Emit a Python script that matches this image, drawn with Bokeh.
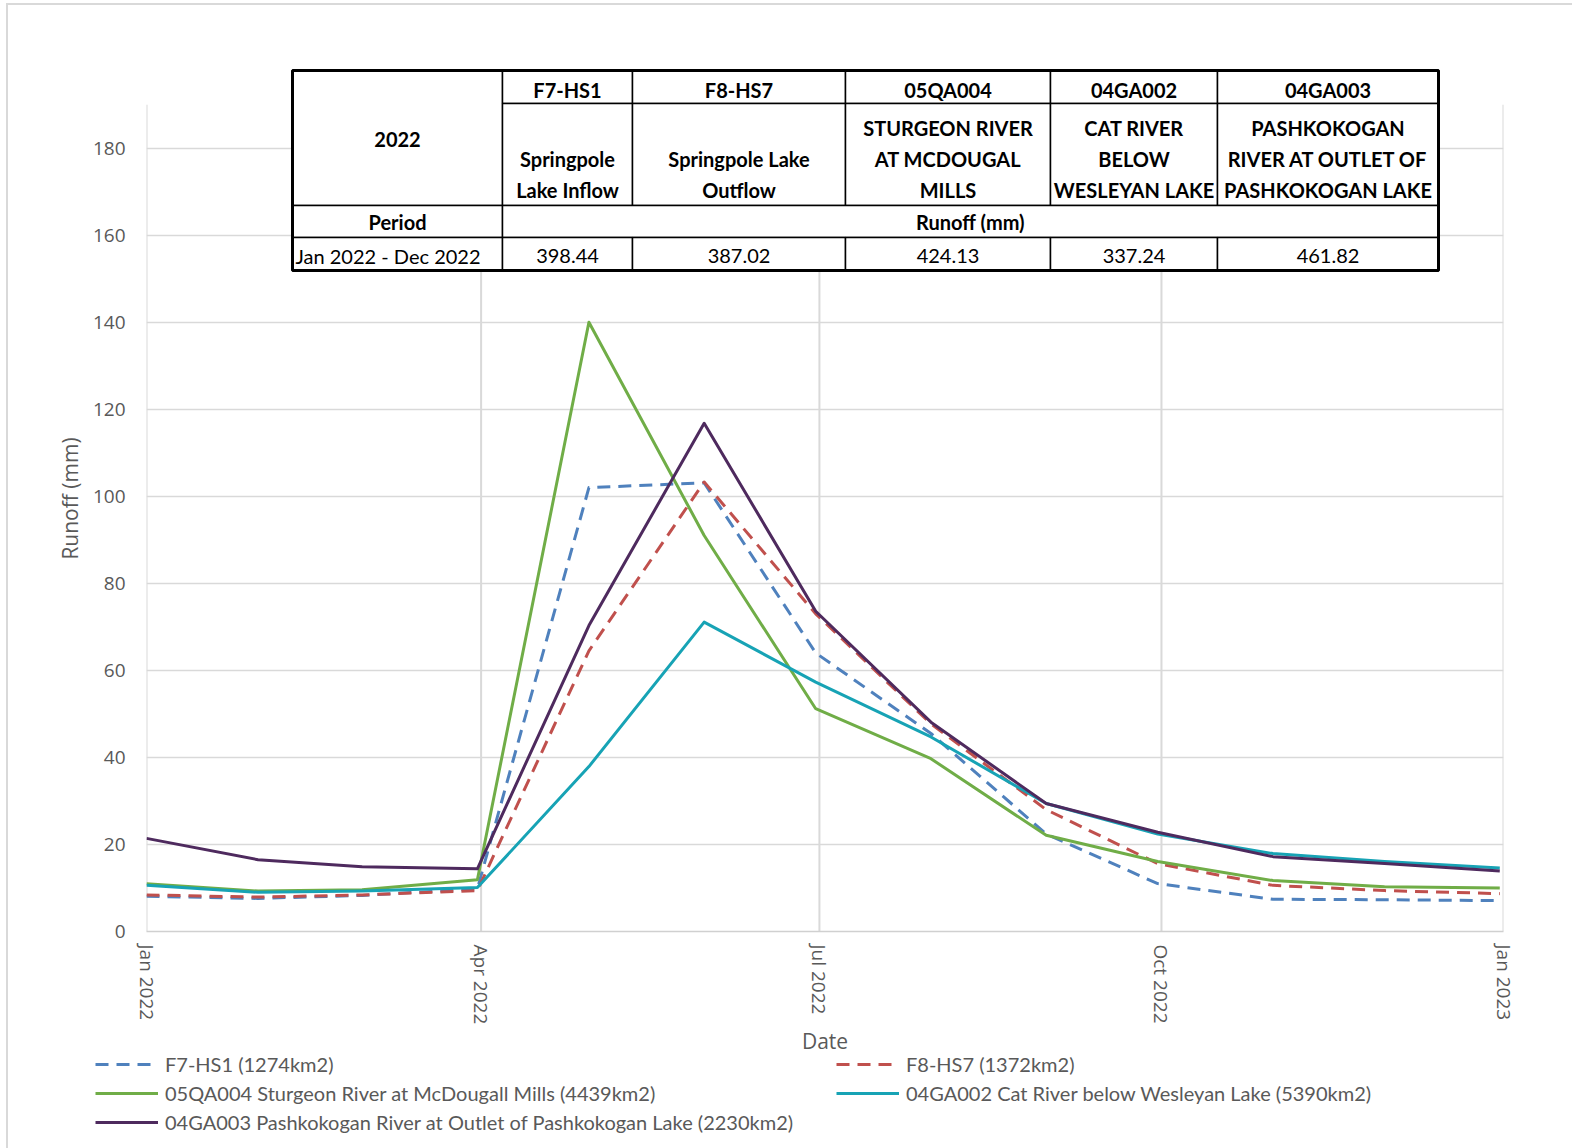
import math
from datetime import datetime

from bokeh.plotting import figure
from bokeh.layouts import column
from bokeh.models import (Range1d, FixedTicker, DatetimeTickFormatter, Legend, LegendItem,
                          BoxAnnotation, Label)
from bokeh.embed import file_html
from bokeh.resources import INLINE

# ---------------- data ----------------
dates = ["2022-01-01", "2022-01-31", "2022-02-28", "2022-03-31", "2022-04-30",
         "2022-05-31", "2022-06-30", "2022-07-31", "2022-08-31", "2022-09-30",
         "2022-10-31", "2022-11-30", "2022-12-31"]

f7_hs1 = [8.1, 7.6, 8.3, 9.8, 102.0, 103.1, 64.0, 45.5, 22.4, 11.0, 7.4, 7.3, 7.1]
f8_hs7 = [8.4, 7.9, 8.4, 9.4, 64.5, 103.3, 73.0, 47.7, 28.0, 15.6, 10.6, 9.4, 8.7]
sturgeon_05qa004 = [11.0, 9.3, 9.6, 11.9, 140.0, 91.0, 51.2, 39.7, 22.1, 16.1, 11.7, 10.3, 10.0]
cat_04ga002 = [10.6, 9.0, 9.3, 10.1, 37.9, 71.1, 57.3, 44.7, 29.4, 22.4, 17.9, 16.1, 14.6]
pashkokogan_04ga003 = [21.4, 16.5, 14.9, 14.4, 70.3, 116.8, 73.6, 48.1, 29.4, 22.8, 17.2, 15.6, 13.9]

series_labels = ["F7-HS1 (1274km2)",
                 "F8-HS7 (1372km2)",
                 "05QA004 Sturgeon River at McDougall Mills (4439km2)",
                 "04GA002 Cat River below Wesleyan Lake (5390km2)",
                 "04GA003 Pashkokogan River at Outlet of Pashkokogan Lake (2230km2)"]

x_tick_dates = ["2022-01-01", "2022-04-01", "2022-07-01", "2022-10-01", "2023-01-01"]
y_ticks = [0, 20, 40, 60, 80, 100, 120, 140, 160, 180]
y_axis_max = 190

table_year = "2022"
table_codes = ["F7-HS1", "F8-HS7", "05QA004", "04GA002", "04GA003"]
table_names = [["Springpole", "Lake Inflow"],
               ["Springpole Lake", "Outflow"],
               ["STURGEON RIVER", "AT MCDOUGAL", "MILLS"],
               ["CAT RIVER", "BELOW", "WESLEYAN LAKE"],
               ["PASHKOKOGAN", "RIVER AT OUTLET OF", "PASHKOKOGAN LAKE"]]
table_period_head = "Period"
table_runoff_head = "Runoff (mm)"
table_period = "Jan 2022 - Dec 2022"
table_runoff = ["398.44", "387.02", "424.13", "337.24", "461.82"]

# ---------------- styles ----------------
colors = ["#4f81bd", "#c0504d", "#70ad47", "#17a3b5", "#4e2a5e"]
dashes = ["13 8", "13 8", "solid", "solid", "solid"]
axis_grey = "#595959"
grid_grey = "#d9d9d9"

def to_dt(s):
    return datetime.strptime(s, "%Y-%m-%d")

xs = [to_dt(d) for d in dates]
series = [f7_hs1, f8_hs7, sturgeon_05qa004, cat_04ga002, pashkokogan_04ga003]

W = 1564
OX, OY = 8, 5                        # page offset of the layout content
FL, FR, FB = 146, 1503, 931          # frame edges in page coords
PX_PER_UNIT = 4.35
Y_TOP = 199                          # room above the axis for the summary table
FT = FB - Y_TOP * PX_PER_UNIT
MAIN_BOTTOM = 1062                   # page y where the legend strip begins (in flow)
H1 = MAIN_BOTTOM - OY
H2 = 86
LEG_SHIFT_X, LEG_SHIFT_Y = 95 - FL, -11

p = figure(width=W, height=H1, x_axis_type="datetime",
           x_range=Range1d(to_dt(x_tick_dates[0]), to_dt(x_tick_dates[-1])),
           y_range=Range1d(0, Y_TOP),
           output_backend="svg", toolbar_location=None,
           min_border_left=FL - OX, min_border_right=W - (FR - OX),
           min_border_top=int(round(FT - OY)), min_border_bottom=H1 - (FB - OY))
p.outline_line_color = None
p.background_fill_color = "white"
p.border_fill_color = "white"

xticks_ms = [to_dt(d).timestamp() * 1000 for d in x_tick_dates]
p.xaxis.ticker = FixedTicker(ticks=xticks_ms)
fmt = "%b %Y"
p.xaxis.formatter = DatetimeTickFormatter(days=fmt, months=fmt, years=fmt, hours=fmt,
                                          minutes=fmt, seconds=fmt, milliseconds=fmt,
                                          minsec=fmt, hourmin=fmt)
p.yaxis.ticker = FixedTicker(ticks=y_ticks)

for ax in (p.xaxis[0], p.yaxis[0]):
    ax.axis_line_color = "#d0d0d0"
    ax.axis_line_width = 1.5
    ax.major_tick_line_color = None
    ax.minor_tick_line_color = None
    ax.major_tick_out = 0
    ax.major_tick_in = 0
    ax.major_label_text_font = "Open Sans"
    ax.major_label_text_font_size = "19px"
    ax.major_label_text_color = axis_grey
    ax.axis_label_text_font = "Open Sans"
    ax.axis_label_text_font_size = "21px"
    ax.axis_label_text_font_style = "normal"
    ax.axis_label_text_color = axis_grey

p.yaxis.axis_line_color = None
p.yaxis.axis_label = "Runoff (mm)"
p.yaxis.major_label_standoff = 21
p.yaxis.axis_label_standoff = 6
p.xaxis.axis_label = "Date"
p.xaxis.major_label_orientation = -math.pi / 2
p.xaxis.major_label_standoff = 13
p.xaxis.axis_label_standoff = 0

p.xgrid.visible = False
p.ygrid.grid_line_color = grid_grey
p.ygrid.grid_line_width = 1.5
p.ygrid.ticker = FixedTicker(ticks=y_ticks)

# vertical gridlines only up to the top of the value axis
x_grid = [to_dt(d) for d in x_tick_dates]
p.segment(x0=x_grid, y0=[0] * len(x_grid), x1=x_grid, y1=[y_axis_max] * len(x_grid),
          line_color=grid_grey, line_width=2, level="underlay")

for ys, c, d in zip(series, colors, dashes):
    p.line(xs, ys, line_color=c, line_width=3, line_dash=d, line_join="round")

# ---------------- table overlay ----------------
def sx(X):
    return X - FL

def sy(Y):
    return FB - Y

col_x = [292, 502, 632, 845, 1050, 1217, 1438]
row_y = [70, 103, 205, 237, 270]

def cell(x0, x1, y0, y1, lw=1.5, fill=True):
    p.add_layout(BoxAnnotation(left=sx(x0), right=sx(x1), top=sy(y0), bottom=sy(y1),
                               left_units="screen", right_units="screen",
                               top_units="screen", bottom_units="screen",
                               fill_color="white", fill_alpha=1.0 if fill else 0.0,
                               line_color="black", line_width=lw, line_alpha=1.0))

def txt(X, Y, s, bold=True, align="center"):
    p.add_layout(Label(x=sx(X), y=sy(Y), x_units="screen", y_units="screen", text=s,
                       text_align=align, text_baseline="middle", text_font="Lato",
                       text_font_size="20px", text_font_style="bold" if bold else "normal",
                       text_color="black"))

cell(col_x[0], col_x[1], row_y[0], row_y[2])
for i in range(5):
    cell(col_x[i + 1], col_x[i + 2], row_y[0], row_y[1])
    cell(col_x[i + 1], col_x[i + 2], row_y[1], row_y[2])
cell(col_x[0], col_x[1], row_y[2], row_y[3])
cell(col_x[1], col_x[6], row_y[2], row_y[3])
cell(col_x[0], col_x[1], row_y[3], row_y[4])
for i in range(5):
    cell(col_x[i + 1], col_x[i + 2], row_y[3], row_y[4])
cell(col_x[0], col_x[6], row_y[0], row_y[4], lw=3, fill=False)

line_y = [127.5, 158.6, 189.7]
txt((col_x[0] + col_x[1]) / 2, 138.5, table_year)
for i in range(5):
    cx = (col_x[i + 1] + col_x[i + 2]) / 2
    txt(cx, 89.3, table_codes[i])
    lines = table_names[i]
    start = 3 - len(lines)
    for k, s in enumerate(lines):
        txt(cx, line_y[start + k], s)
    txt(cx, 255, table_runoff[i], bold=False)
txt((col_x[0] + col_x[1]) / 2, 221, table_period_head)
txt((col_x[1] + col_x[6]) / 2, 221, table_runoff_head)
txt(col_x[0] + 3, 255, table_period, bold=False, align="left")

# ---------------- legend strip ----------------
lg = figure(width=W, height=H2, output_backend="svg", toolbar_location=None,
            x_axis_location=None, y_axis_location=None, min_border=0)
lg.outline_line_color = None
lg.grid.visible = False
lg.background_fill_alpha = 0
lg.border_fill_alpha = 0
leg_renderers = []
for ys, c, d in zip(series, colors, dashes):
    r = lg.line(list(range(len(ys))), ys, line_color=c, line_width=3, line_dash=d)
    r.visible = False
    leg_renderers.append(r)

legend = Legend(items=[LegendItem(label=lab, renderers=[r])
                       for lab, r in zip(series_labels, leg_renderers)],
                location=(0, 3), orientation="horizontal", ncols=2,
                glyph_width=63, glyph_height=22, label_standoff=7, spacing=5,
                label_width=666, padding=0, margin=0,
                border_line_color=None, background_fill_alpha=0,
                label_text_font="Lato", label_text_font_size="20px",
                label_text_color=axis_grey)
lg.add_layout(legend)
lg.styles = {"transform": f"translate({LEG_SHIFT_X}px, {LEG_SHIFT_Y}px)"}

layout = column(p, lg, spacing=0)
layout.styles = {"border-top": "2px solid #d9d9d9", "border-left": "2px solid #d9d9d9",
                 "margin-left": "6px", "margin-top": "3px"}

open("out.html", "w").write(file_html(layout, INLINE))
